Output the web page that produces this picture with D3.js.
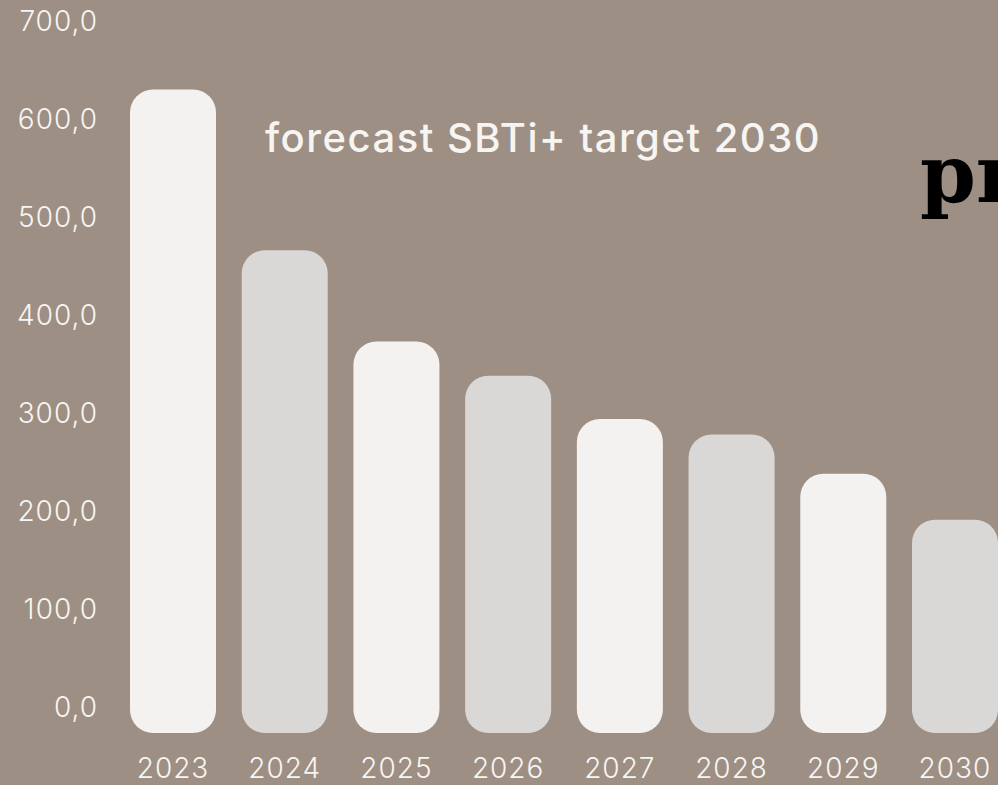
<!DOCTYPE html>
<html>
<head>
<meta charset="utf-8">
<script src="https://cdn.jsdelivr.net/npm/d3@7"></script>
<style>
  html, body { margin: 0; padding: 0; background: #9d8f84; overflow: hidden; }
  svg { display: block; }
</style>
</head>
<body>
<div id="chart"></div>
<script>
// Data
const years = ["2023", "2024", "2025", "2026", "2027", "2028", "2029", "2030"];
const emissions = [631, 467, 374, 339, 295, 279, 239, 192];
const yTicks = [0, 100, 200, 300, 400, 500, 600, 700];
const title = "forecast SBTi+ target 2030";

const width = 998, height = 785;
const font = "Inter, 'Noto Sans', sans-serif";

const svg = d3.select("#chart").append("svg")
  .attr("width", width)
  .attr("height", height);

// Scales
const x = d3.scaleBand()
  .domain(years)
  .range([130, 998])
  .paddingInner(0.23)
  .paddingOuter(0);

const y = d3.scaleLinear()
  .domain([0, 700])
  .range([708, 22]);

const nlFormat = d3.formatLocale({ decimal: ",", thousands: ".", grouping: [3], currency: ["", "€"] }).format(".1f");

// bars are pill shaped, bottom cap hangs below the zero line
const cap = 25;
svg.append("g")
  .selectAll("rect")
  .data(years.map((yr, i) => ({ year: yr, value: emissions[i], i })))
  .join("rect")
  .attr("x", d => x(d.year))
  .attr("y", d => y(d.value))
  .attr("width", x.bandwidth())
  .attr("height", d => y(0) - y(d.value) + cap)
  .attr("rx", 23)
  .attr("ry", 23)
  .attr("fill", d => d.i % 2 === 0 ? "#f4f2f0" : "#d9d8d7");

// Y axis
const yAxis = svg.append("g")
  .attr("transform", "translate(98,0)")
  .call(d3.axisLeft(y).tickValues(yTicks).tickFormat(nlFormat).tickSize(0).tickPadding(0));
yAxis.select(".domain").remove();
yAxis.selectAll("text")
  .attr("fill", "#f7f5f2")
  .style("font-family", font)
  .style("font-weight", 300)
  .style("font-size", "28px")
  .style("letter-spacing", "1px");

// X axis
const xAxis = svg.append("g")
  .attr("transform", `translate(0,${y(0) + cap})`)
  .call(d3.axisBottom(x).tickSize(0).tickPadding(25));
xAxis.select(".domain").remove();
xAxis.selectAll("text")
  .attr("fill", "#f7f5f2")
  .style("font-family", font)
  .style("font-weight", 300)
  .style("font-size", "28px")
  .style("letter-spacing", "1px");

// Title
svg.append("text")
  .attr("x", 265)
  .attr("y", 152)
  .attr("fill", "#f7f5f2")
  .style("font-family", font)
  .style("font-weight", 500)
  .style("font-size", "40px")
  .style("letter-spacing", "1.5px")
  .text(title);

// logo, cut off at the right edge like in the original
svg.append("text")
  .attr("x", 920)
  .attr("y", 202)
  .attr("fill", "#000")
  .style("font-family", "'DejaVu Serif', serif")
  .style("font-weight", 700)
  .style("font-size", "80px")
  .text("pr");
</script>
</body>
</html>
